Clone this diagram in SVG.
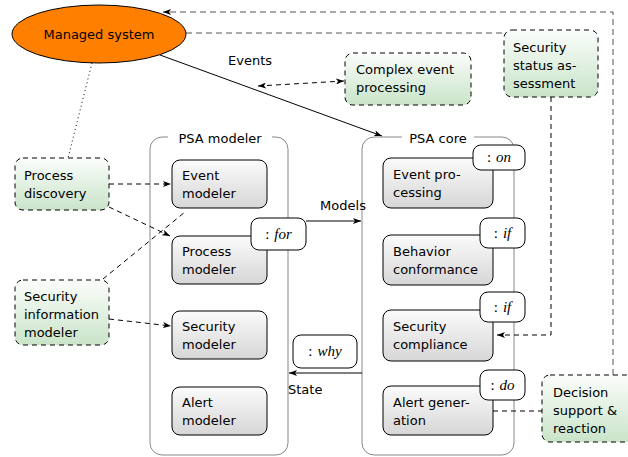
<svg xmlns="http://www.w3.org/2000/svg" width="628" height="457" viewBox="0 0 628 457">
<defs>
<linearGradient id="gray" x1="0" y1="0" x2="0" y2="1"><stop offset="0" stop-color="#fbfbfb"/><stop offset="1" stop-color="#d6d6d6"/></linearGradient>
<linearGradient id="green" x1="0" y1="0" x2="0" y2="1"><stop offset="0" stop-color="#fbfdfb"/><stop offset="1" stop-color="#c9e4c9"/></linearGradient>
<marker id="arr" viewBox="0 0 8 6" refX="8" refY="3" markerWidth="8" markerHeight="6" markerUnits="userSpaceOnUse" orient="auto-start-reverse"><path d="M0,0 L8,3 L0,6 L2,3 z" fill="#000"/></marker>
<style>
text{font-family:"DejaVu Sans",sans-serif;font-size:13px;fill:#000}
.math{font-family:"Liberation Serif",serif;font-size:15px}
.math tspan.i{font-style:italic}
.node{fill:url(#gray);stroke:#000;stroke-width:1}
.tag{fill:#fff;stroke:#000;stroke-width:1}
.ext{fill:url(#green);stroke:#000;stroke-width:1;stroke-dasharray:5,4}
.cont{fill:none;stroke:#888;stroke-width:1}
.c{fill:none;stroke:#000;stroke-width:1}
.d{fill:none;stroke:#000;stroke-width:1;stroke-dasharray:5,4}
.dg{fill:none;stroke:#555;stroke-width:1;stroke-dasharray:6,4}
</style>
</defs>
<g id="psa-modeler">
<rect class="cont" x="150" y="137" width="138" height="318" rx="12"/>
<rect x="168" y="130" width="104" height="16" fill="#fff"/>
<text x="220" y="143" text-anchor="middle">PSA modeler</text>
</g>
<g id="psa-core">
<rect class="cont" x="362" y="137" width="152" height="318" rx="12"/>
<rect x="402" y="130" width="72" height="16" fill="#fff"/>
<text x="438" y="143" text-anchor="middle">PSA core</text>
</g>
<g id="connectors">
<path class="dg" d="M613,375 V12 H163" marker-end="url(#arr)"/>
<path class="dg" d="M186,33 H505"/>
<path class="d" d="M551,97 V335 H497" marker-end="url(#arr)"/>
<path class="d" d="M258,86 L344,81" marker-start="url(#arr)" marker-end="url(#arr)"/>
<path class="c" d="M160,55 L382,136" marker-end="url(#arr)"/>
<path class="c" d="M306,221 H361" marker-end="url(#arr)"/>
<path class="c" d="M362,373 H289" marker-end="url(#arr)"/>
<path class="d" d="M109,184 H171" marker-end="url(#arr)"/>
<path class="d" d="M109,207 L170,236" marker-end="url(#arr)"/>
<path class="d" d="M103,279 L185,212"/>
<path class="d" d="M109,319 L171,326" marker-end="url(#arr)"/>
<path class="d" d="M493,411 H542"/>
<path fill="none" stroke="#000" stroke-width="1" stroke-dasharray="1,3" d="M92,63 L68,158"/>
<text x="250" y="65" text-anchor="middle">Events</text>
<text x="343" y="210" text-anchor="middle">Models</text>
<text x="288" y="394">State</text>
</g>
<g id="managed-system">
<ellipse cx="99" cy="34" rx="87" ry="29" fill="#ff8000" stroke="#000" stroke-width="1"/>
<text x="99" y="39" text-anchor="middle">Managed system</text>
</g>
<g id="complex-event-processing">
<rect class="ext" x="345" y="53" width="126" height="52" rx="8"/>
<text x="356" y="74">Complex event</text>
<text x="356" y="92">processing</text>
</g>
<g id="security-status-assessment">
<rect class="ext" x="504" y="30" width="94" height="67" rx="8"/>
<text x="513" y="52">Security</text>
<text x="513" y="70">status as-</text>
<text x="513" y="88">sessment</text>
</g>
<g id="process-discovery">
<rect class="ext" x="15" y="158" width="94" height="52" rx="8"/>
<text x="24" y="180">Process</text>
<text x="24" y="198">discovery</text>
</g>
<g id="security-information-modeler">
<rect class="ext" x="15" y="280" width="94" height="65" rx="8"/>
<text x="24" y="301">Security</text>
<text x="24" y="319">information</text>
<text x="24" y="337">modeler</text>
</g>
<g id="decision-support">
<rect class="ext" x="542" y="375" width="92" height="67" rx="8"/>
<text x="553" y="397">Decision</text>
<text x="553" y="415">support &amp;</text>
<text x="553" y="433">reaction</text>
</g>
<g id="event-modeler">
<rect class="node" x="172" y="160" width="95" height="48" rx="8"/>
<text x="182" y="180">Event</text>
<text x="182" y="198">modeler</text>
</g>
<g id="process-modeler">
<rect class="node" x="172" y="236" width="95" height="48" rx="8"/>
<text x="182" y="256">Process</text>
<text x="182" y="274">modeler</text>
</g>
<g id="security-modeler">
<rect class="node" x="172" y="311" width="95" height="48" rx="8"/>
<text x="182" y="331">Security</text>
<text x="182" y="349">modeler</text>
</g>
<g id="alert-modeler">
<rect class="node" x="172" y="387" width="95" height="48" rx="8"/>
<text x="182" y="407">Alert</text>
<text x="182" y="425">modeler</text>
</g>
<g id="event-processing">
<rect class="node" x="383" y="158" width="110" height="50" rx="8"/>
<text x="393" y="179">Event pro-</text>
<text x="393" y="197">cessing</text>
</g>
<g id="behavior-conformance">
<rect class="node" x="383" y="235" width="110" height="50" rx="8"/>
<text x="393" y="256">Behavior</text>
<text x="393" y="274">conformance</text>
</g>
<g id="security-compliance">
<rect class="node" x="383" y="310" width="110" height="51" rx="8"/>
<text x="393" y="331">Security</text>
<text x="393" y="349">compliance</text>
</g>
<g id="alert-generation">
<rect class="node" x="383" y="386" width="110" height="49" rx="8"/>
<text x="393" y="407">Alert gener-</text>
<text x="393" y="425">ation</text>
</g>
<g id="tag-on">
<rect class="tag" x="473" y="145" width="52" height="25" rx="8"/>
<text class="math" x="499" y="162" text-anchor="middle">:<tspan class="i" dx="5">on</tspan></text>
</g>
<g id="tag-if-1">
<rect class="tag" x="480" y="218" width="45" height="30" rx="8"/>
<text class="math" x="502.5" y="238" text-anchor="middle">:<tspan class="i" dx="5">if</tspan></text>
</g>
<g id="tag-if-2">
<rect class="tag" x="480" y="292" width="45" height="30" rx="8"/>
<text class="math" x="502.5" y="312" text-anchor="middle">:<tspan class="i" dx="5">if</tspan></text>
</g>
<g id="tag-do">
<rect class="tag" x="480" y="370" width="45" height="30" rx="8"/>
<text class="math" x="502.5" y="390" text-anchor="middle">:<tspan class="i" dx="5">do</tspan></text>
</g>
<g id="tag-for">
<rect class="tag" x="251" y="218" width="55" height="32" rx="8"/>
<text class="math" x="278.5" y="239" text-anchor="middle">:<tspan class="i" dx="5">for</tspan></text>
</g>
<g id="tag-why">
<rect class="tag" x="293" y="335" width="64" height="33" rx="8"/>
<text class="math" x="325" y="356" text-anchor="middle">:<tspan class="i" dx="5">why</tspan></text>
</g>
</svg>
